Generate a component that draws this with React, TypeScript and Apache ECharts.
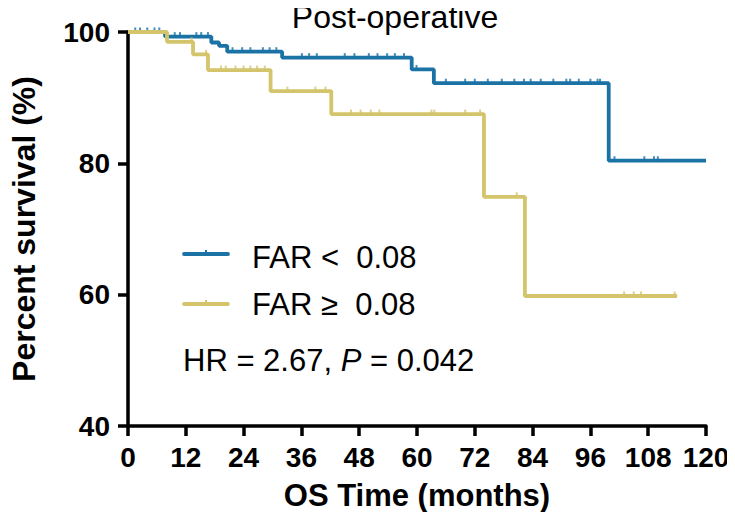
import React, { useEffect, useRef } from "react";
import * as echarts from "echarts";

// Kaplan–Meier step points [month, survival %]
const farLowSteps: [number, number][] = [
  [0, 100], [7.7, 99.3], [17.3, 98.4], [18.9, 97.9], [20.6, 97.0], [32, 96.1],
  [58.9, 94.3], [63.5, 92.2], [99.8, 80.4], [120, 80.4],
];
const farHighSteps: [number, number][] = [
  [0, 100], [8.1, 98.5], [13.5, 96.6], [16.6, 94.2], [29.6, 91.0], [42.2, 87.5],
  [73.9, 74.9], [82.4, 59.8], [114, 59.8],
];
// censored times (months)
const farLowCensor = [1.5, 2.5, 4, 5.5, 6.5, 9.7, 10.8, 14.2, 15.2, 16.6, 21.7, 23.7, 25.4, 28, 29.4, 30.8,
  36.1, 37.6, 39.2, 45, 47, 50, 51.8, 53.8, 55.4, 57.3, 59.9, 66, 70, 72, 74.7, 77.6, 80.2, 82.2, 83.6,
  85.7, 88.3, 91, 91.8, 93.6, 96, 97.5, 98, 101, 107.2, 109.2, 110];
const farHighCensor = [13.2, 16.2, 19.3, 20.3, 22.3, 24, 25.4, 26.8, 28.4, 33.1, 38.9, 41, 46.3, 48.3,
  50.4, 52.2, 63, 63.6, 70, 73.1, 80.7, 103, 105, 106.5, 113.5];

const seriesNames = ["FAR <  0.08", "FAR \u2265  0.08"];
const xTicks = [0, 12, 24, 36, 48, 60, 72, 84, 96, 108, 120];
const yTicks = [40, 60, 80, 100];
const titleText = "Post-operative";
const hrText = "HR = 2.67, ";
const pText = "P";
const pValueText = " = 0.042";

const BLUE = "#1a72a5";
const YELLOW = "#d4c46b";

function survAt(steps: [number, number][], t: number): number {
  let s = steps[0][1];
  for (const [x, y] of steps) {
    if (x <= t) s = y;
  }
  return s;
}

const sans = "'Liberation Sans', Arial, Helvetica, sans-serif";

export default function App() {
  const ref = useRef<HTMLDivElement>(null);
  useEffect(() => {
    if (!ref.current) return;
    const chart = echarts.init(ref.current, undefined, { renderer: "svg" });
    const axisCommon = {
      axisLine: { show: true, lineStyle: { color: "#000", width: 3.5 } },
      axisTick: { show: true, length: 10, lineStyle: { color: "#000", width: 3.5 } },
      splitLine: { show: false },
    };
    const censorStyle = {
      type: "scatter",
      symbol: "rect",
      symbolSize: [2, 5],
      symbolOffset: [0, -2],
      silent: true,
    };
    chart.setOption({
      animation: false,
      backgroundColor: "#fff",
      grid: { left: 115, right: 29, top: 32, bottom: 94, containLabel: false },
      xAxis: {
        type: "value",
        min: xTicks[0],
        max: xTicks[xTicks.length - 1],
        interval: 12,
        ...axisCommon,
        axisLabel: { color: "#000", fontFamily: sans, fontWeight: "bold", fontSize: 28, margin: 17 },
        name: "OS Time (months)",
        nameLocation: "middle",
        nameGap: 54,
        nameTextStyle: { color: "#000", fontFamily: sans, fontWeight: "bold", fontSize: 31 },
      },
      yAxis: {
        type: "value",
        min: yTicks[0],
        max: yTicks[yTicks.length - 1],
        interval: 20,
        ...axisCommon,
        axisLabel: { color: "#000", fontFamily: sans, fontWeight: "bold", fontSize: 28, margin: 18 },
        name: "Percent survival (%)",
        nameLocation: "middle",
        nameGap: 88,
        nameTextStyle: { color: "#000", fontFamily: sans, fontWeight: "bold", fontSize: 32 },
      },
      series: [
        {
          name: seriesNames[0],
          type: "line",
          step: "end",
          data: farLowSteps,
          showSymbol: false,
          lineStyle: { color: BLUE, width: 3.8 },
          z: 2,
        },
        {
          ...censorStyle,
          data: farLowCensor.map((t) => [t, survAt(farLowSteps, t)]),
          itemStyle: { color: BLUE },
          z: 2,
        },
        {
          name: seriesNames[1],
          type: "line",
          step: "end",
          data: farHighSteps,
          showSymbol: false,
          lineStyle: { color: YELLOW, width: 3.8 },
          z: 3,
        },
        {
          ...censorStyle,
          data: farHighCensor.map((t) => [t, survAt(farHighSteps, t)]),
          itemStyle: { color: YELLOW },
          z: 3,
        },
      ],
      graphic: [
        {
          type: "text",
          x: 395,
          y: 17,
          style: { text: titleText, fontFamily: sans, fontSize: 32, fill: "#000", align: "center", verticalAlign: "middle" },
        },
        { type: "line", shape: { x1: 184, y1: 254, x2: 228, y2: 254 }, style: { stroke: BLUE, lineWidth: 3.8, lineCap: "round" } },
        { type: "rect", shape: { x: 205, y: 250, width: 2, height: 4 }, style: { fill: BLUE } },
        { type: "line", shape: { x1: 184, y1: 304, x2: 228, y2: 304 }, style: { stroke: YELLOW, lineWidth: 3.8, lineCap: "round" } },
        { type: "rect", shape: { x: 205, y: 300, width: 2, height: 4 }, style: { fill: YELLOW } },
        {
          type: "text",
          x: 252,
          y: 257,
          style: { text: seriesNames[0], fontFamily: sans, fontSize: 31, fill: "#000", verticalAlign: "middle" },
        },
        {
          type: "text",
          x: 252,
          y: 304,
          style: { text: seriesNames[1], fontFamily: sans, fontSize: 31, fill: "#000", verticalAlign: "middle" },
        },
        {
          type: "text",
          x: 183,
          y: 360,
          style: {
            text: `{a|${hrText}}{b|${pText}}{a|${pValueText}}`,
            verticalAlign: "middle",
            rich: {
              a: { fontFamily: sans, fontSize: 31, fill: "#000" },
              b: { fontFamily: sans, fontSize: 31, fontStyle: "italic", fill: "#000" },
            },
          },
        },
      ],
    });
    return () => chart.dispose();
  }, []);
  return <div ref={ref} style={{ width: 735, height: 520, margin: -8 }} />;
}
